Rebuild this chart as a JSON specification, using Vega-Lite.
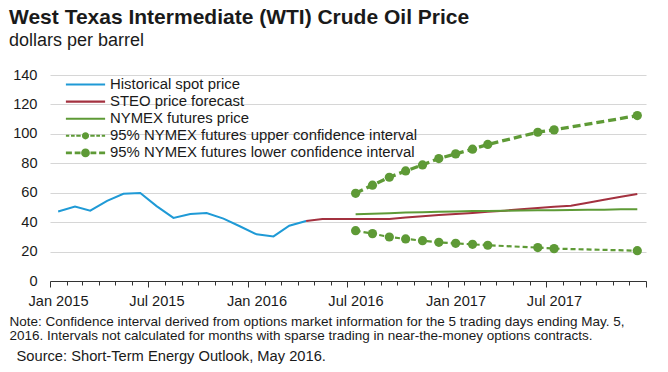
{
  "$schema": "https://vega.github.io/schema/vega-lite/v6.json",
  "width": 596,
  "height": 206,
  "autosize": {"type": "none"},
  "padding": {"left": 50, "top": 75, "right": 22, "bottom": 91},
  "background": "white",
  "config": {"font": "Liberation Sans", "view": {"stroke": null}},
  "title": {
    "text": "West Texas Intermediate (WTI) Crude Oil Price",
    "subtitle": "dollars per barrel",
    "anchor": "start",
    "frame": "group",
    "dx": -41,
    "offset": 17,
    "font": "Liberation Sans",
    "fontSize": 21,
    "fontWeight": "bold",
    "color": "#1a1a1a",
    "subtitleFont": "Liberation Sans",
    "subtitleFontSize": 18,
    "subtitleColor": "#1a1a1a",
    "subtitlePadding": 4
  },
  "data": {
    "values": [
      {"series": "Historical spot price", "date": "2015-01-16", "price": 47.2},
      {"series": "Historical spot price", "date": "2015-02-16", "price": 50.6},
      {"series": "Historical spot price", "date": "2015-03-16", "price": 47.8},
      {"series": "Historical spot price", "date": "2015-04-16", "price": 54.5},
      {"series": "Historical spot price", "date": "2015-05-16", "price": 59.3},
      {"series": "Historical spot price", "date": "2015-06-16", "price": 59.8},
      {"series": "Historical spot price", "date": "2015-07-16", "price": 50.9},
      {"series": "Historical spot price", "date": "2015-08-16", "price": 42.9},
      {"series": "Historical spot price", "date": "2015-09-16", "price": 45.5},
      {"series": "Historical spot price", "date": "2015-10-16", "price": 46.2},
      {"series": "Historical spot price", "date": "2015-11-16", "price": 42.4},
      {"series": "Historical spot price", "date": "2015-12-16", "price": 37.2},
      {"series": "Historical spot price", "date": "2016-01-16", "price": 31.7},
      {"series": "Historical spot price", "date": "2016-02-16", "price": 30.3},
      {"series": "Historical spot price", "date": "2016-03-16", "price": 37.6},
      {"series": "Historical spot price", "date": "2016-04-16", "price": 40.8},
      {"series": "STEO price forecast", "date": "2016-04-16", "price": 40.8},
      {"series": "STEO price forecast", "date": "2016-05-16", "price": 42.1},
      {"series": "STEO price forecast", "date": "2016-06-16", "price": 42.1},
      {"series": "STEO price forecast", "date": "2016-07-16", "price": 42.1},
      {"series": "STEO price forecast", "date": "2016-08-16", "price": 42.1},
      {"series": "STEO price forecast", "date": "2016-09-16", "price": 42.2},
      {"series": "STEO price forecast", "date": "2016-10-16", "price": 43.1},
      {"series": "STEO price forecast", "date": "2016-11-16", "price": 44.0},
      {"series": "STEO price forecast", "date": "2016-12-16", "price": 44.8},
      {"series": "STEO price forecast", "date": "2017-01-16", "price": 45.5},
      {"series": "STEO price forecast", "date": "2017-02-16", "price": 46.2},
      {"series": "STEO price forecast", "date": "2017-03-16", "price": 47.0},
      {"series": "STEO price forecast", "date": "2017-04-16", "price": 47.8},
      {"series": "STEO price forecast", "date": "2017-05-16", "price": 48.8},
      {"series": "STEO price forecast", "date": "2017-06-16", "price": 49.6},
      {"series": "STEO price forecast", "date": "2017-07-16", "price": 50.4},
      {"series": "STEO price forecast", "date": "2017-08-16", "price": 51.2},
      {"series": "STEO price forecast", "date": "2017-09-16", "price": 53.2},
      {"series": "STEO price forecast", "date": "2017-10-16", "price": 55.2},
      {"series": "STEO price forecast", "date": "2017-11-16", "price": 57.2},
      {"series": "STEO price forecast", "date": "2017-12-16", "price": 59.2},
      {"series": "NYMEX futures price", "date": "2016-07-16", "price": 45.3},
      {"series": "NYMEX futures price", "date": "2016-08-16", "price": 45.7},
      {"series": "NYMEX futures price", "date": "2016-09-16", "price": 46.1},
      {"series": "NYMEX futures price", "date": "2016-10-16", "price": 46.5},
      {"series": "NYMEX futures price", "date": "2016-11-16", "price": 46.8},
      {"series": "NYMEX futures price", "date": "2016-12-16", "price": 47.1},
      {"series": "NYMEX futures price", "date": "2017-01-16", "price": 47.3},
      {"series": "NYMEX futures price", "date": "2017-02-16", "price": 47.5},
      {"series": "NYMEX futures price", "date": "2017-03-16", "price": 47.6},
      {"series": "NYMEX futures price", "date": "2017-04-16", "price": 47.8},
      {"series": "NYMEX futures price", "date": "2017-05-16", "price": 47.9},
      {"series": "NYMEX futures price", "date": "2017-06-16", "price": 48.0},
      {"series": "NYMEX futures price", "date": "2017-07-16", "price": 48.1},
      {"series": "NYMEX futures price", "date": "2017-08-16", "price": 48.3},
      {"series": "NYMEX futures price", "date": "2017-09-16", "price": 48.4},
      {"series": "NYMEX futures price", "date": "2017-10-16", "price": 48.5},
      {"series": "NYMEX futures price", "date": "2017-11-16", "price": 48.7},
      {"series": "NYMEX futures price", "date": "2017-12-16", "price": 48.8},
      {"series": "95% NYMEX futures upper confidence interval", "date": "2016-07-16", "price": 59.6},
      {"series": "95% NYMEX futures upper confidence interval", "date": "2016-08-16", "price": 65.1},
      {"series": "95% NYMEX futures upper confidence interval", "date": "2016-09-16", "price": 70.5},
      {"series": "95% NYMEX futures upper confidence interval", "date": "2016-10-16", "price": 74.8},
      {"series": "95% NYMEX futures upper confidence interval", "date": "2016-11-16", "price": 78.9},
      {"series": "95% NYMEX futures upper confidence interval", "date": "2016-12-16", "price": 83.2},
      {"series": "95% NYMEX futures upper confidence interval", "date": "2017-01-16", "price": 86.4},
      {"series": "95% NYMEX futures upper confidence interval", "date": "2017-02-16", "price": 89.6},
      {"series": "95% NYMEX futures upper confidence interval", "date": "2017-03-16", "price": 92.8},
      {"series": "95% NYMEX futures upper confidence interval", "date": "2017-06-16", "price": 101.1},
      {"series": "95% NYMEX futures upper confidence interval", "date": "2017-07-16", "price": 102.7},
      {"series": "95% NYMEX futures upper confidence interval", "date": "2017-12-16", "price": 112.4},
      {"series": "95% NYMEX futures lower confidence interval", "date": "2016-07-16", "price": 34.2},
      {"series": "95% NYMEX futures lower confidence interval", "date": "2016-08-16", "price": 32.2},
      {"series": "95% NYMEX futures lower confidence interval", "date": "2016-09-16", "price": 29.9},
      {"series": "95% NYMEX futures lower confidence interval", "date": "2016-10-16", "price": 28.6},
      {"series": "95% NYMEX futures lower confidence interval", "date": "2016-11-16", "price": 27.4},
      {"series": "95% NYMEX futures lower confidence interval", "date": "2016-12-16", "price": 26.3},
      {"series": "95% NYMEX futures lower confidence interval", "date": "2017-01-16", "price": 25.6},
      {"series": "95% NYMEX futures lower confidence interval", "date": "2017-02-16", "price": 24.9},
      {"series": "95% NYMEX futures lower confidence interval", "date": "2017-03-16", "price": 24.3},
      {"series": "95% NYMEX futures lower confidence interval", "date": "2017-06-16", "price": 22.7},
      {"series": "95% NYMEX futures lower confidence interval", "date": "2017-07-16", "price": 22.0},
      {"series": "95% NYMEX futures lower confidence interval", "date": "2017-12-16", "price": 20.6}
    ]
  },
  "encoding": {
    "x": {
      "field": "date",
      "type": "temporal",
      "scale": {"domain": [{"year": 2015, "month": 1, "date": 1}, {"year": 2018, "month": 1, "date": 1}]},
      "axis": {
        "tickCount": {"interval": "month", "step": 1},
        "labelExpr": "month(datum.value) == 0 && year(datum.value) < 2018 ? 'Jan ' + year(datum.value) : (month(datum.value) == 6 ? 'Jul ' + year(datum.value) : '')",
        "labelOffset": 8,
        "labelFlush": false,
        "labelOverlap": false,
        "labelPadding": 6,
        "labelFont": "Liberation Sans",
        "labelFontSize": 14.6,
        "labelColor": "#1a1a1a",
        "tickSize": {"condition": {"test": "month(datum.value) % 6 == 0", "value": 6}, "value": 4},
        "tickColor": "#333333",
        "tickWidth": 1,
        "domainColor": "#333333",
        "domainWidth": 1.2,
        "grid": false,
        "title": ["Note: Confidence interval derived from options market information for the 5 trading days ending May. 5,", "2016. Intervals not calculated for months with sparse trading in near-the-money options contracts."],
        "titleFont": "Liberation Sans",
        "titleFontSize": 13.5,
        "titleFontWeight": "normal",
        "titleColor": "#1a1a1a",
        "titleAnchor": "start",
        "titleAlign": "left",
        "titleBaseline": "alphabetic",
        "titleX": -41,
        "titleY": 44,
        "titleLineHeight": 14.5
      }
    },
    "y": {
      "field": "price",
      "type": "quantitative",
      "scale": {"domain": [0, 140], "nice": false},
      "axis": {
        "values": [0, 20, 40, 60, 80, 100, 120, 140],
        "tickCount": 8,
        "labelOverlap": false,
        "grid": true,
        "gridColor": "#d6d6d6",
        "gridWidth": 1.2,
        "domain": false,
        "ticks": false,
        "tickSize": 0,
        "labelPadding": 13,
        "labelFont": "Liberation Sans",
        "labelFontSize": 14.6,
        "labelColor": "#1a1a1a",
        "title": "Source: Short-Term Energy Outlook, May 2016.",
        "titleAngle": 0,
        "titleAlign": "left",
        "titleBaseline": "alphabetic",
        "titleX": -34,
        "titleY": 285,
        "titleFont": "Liberation Sans",
        "titleFontSize": 14.7,
        "titleFontWeight": "normal",
        "titleColor": "#1a1a1a"
      }
    },
    "color": {
      "field": "series",
      "type": "nominal",
      "scale": {
        "domain": ["Historical spot price", "STEO price forecast", "NYMEX futures price", "95% NYMEX futures upper confidence interval", "95% NYMEX futures lower confidence interval"],
        "range": ["#1f9ad6", "#a3313f", "#5e9a36", "#5e9a36", "#5e9a36"]
      },
      "legend": {
        "title": null,
        "orient": "none",
        "legendX": 27.5,
        "legendY": 1.5,
        "padding": 0,
        "symbolSize": 256,
        "symbolOpacity": 1,
        "symbolStrokeWidth": 0,
        "labelFont": "Liberation Sans",
        "labelFontSize": 14.9,
        "labelColor": "#1a1a1a",
        "labelOffset": 16.5,
        "labelLimit": 600,
        "rowPadding": 2.1
      }
    }
  },
  "layer": [
    {
      "transform": [{"filter": {"field": "series", "oneOf": ["Historical spot price", "STEO price forecast", "NYMEX futures price"]}}],
      "mark": {"type": "line", "strokeWidth": 2}
    },
    {
      "transform": [{"filter": {"field": "series", "equal": "95% NYMEX futures upper confidence interval"}}],
      "mark": {"type": "line", "strokeWidth": 3.3, "strokeDash": [8, 4]}
    },
    {
      "transform": [{"filter": {"field": "series", "equal": "95% NYMEX futures lower confidence interval"}}],
      "mark": {"type": "line", "strokeWidth": 2.2, "strokeDash": [5, 3]}
    },
    {
      "transform": [{"filter": {"field": "series", "oneOf": ["95% NYMEX futures upper confidence interval", "95% NYMEX futures lower confidence interval"]}}],
      "mark": {"type": "point", "filled": true, "size": 85, "opacity": 1}
    },
    {
      "mark": {"type": "point", "filled": true, "opacity": 0},
      "encoding": {
        "shape": {
          "field": "series",
          "type": "nominal",
          "scale": {
            "domain": ["Historical spot price", "STEO price forecast", "NYMEX futures price", "95% NYMEX futures upper confidence interval", "95% NYMEX futures lower confidence interval"],
            "range": [
              "M-2.45,-0.13H2.45V0.13H-2.45Z",
              "M-2.45,-0.13H2.45V0.13H-2.45Z",
              "M-2.45,-0.13H2.45V0.13H-2.45Z",
              "M-2.45,-0.12H-2.03V0.12H-2.45Z M-1.81,-0.12H-1.35V0.12H-1.81Z M-1.15,-0.12H-0.6V0.12H-1.15Z M0.6,-0.12H1.15V0.12H0.6Z M1.35,-0.12H1.81V0.12H1.35Z M2.03,-0.12H2.45V0.12H2.03Z M-0.45,0A0.45,0.45 0 1,0 0.45,0A0.45,0.45 0 1,0 -0.45,0Z",
              "M-2.45,-0.18H-1.7V0.18H-2.45Z M-1.35,-0.18H-0.62V0.18H-1.35Z M0.62,-0.18H1.35V0.18H0.62Z M1.7,-0.18H2.45V0.18H1.7Z M-0.55,0A0.55,0.55 0 1,0 0.55,0A0.55,0.55 0 1,0 -0.55,0Z"
            ]
          },
          "legend": {
            "title": null,
            "orient": "none",
            "legendX": 27.5,
            "legendY": 1.5,
            "padding": 0,
            "symbolSize": 256,
            "symbolOpacity": 1,
            "symbolStrokeWidth": 0,
            "labelFont": "Liberation Sans",
            "labelFontSize": 14.9,
            "labelColor": "#1a1a1a",
            "labelOffset": 16.5,
            "labelLimit": 600,
            "rowPadding": 2.1
          }
        }
      }
    }
  ]
}
